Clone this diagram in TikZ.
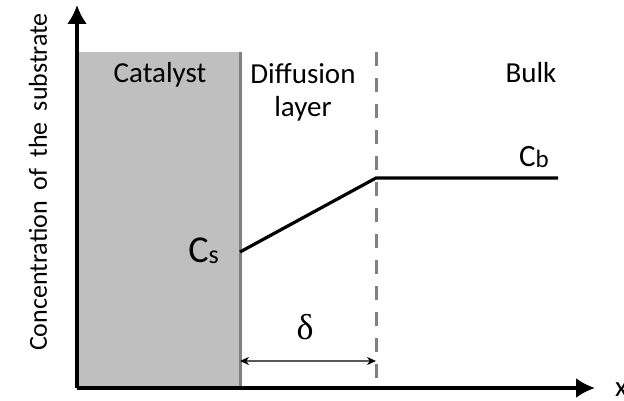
\documentclass[tikz,border=0pt]{standalone}
\usepackage{fontspec}
\setmainfont{Carlito}
\newfontfamily\grkfont{Liberation Serif}
\usetikzlibrary{arrows.meta,calc}

\tikzset{
	axis/.style={line width=3.2pt, -{Latex[length=19pt,width=20pt]}},
	profile/.style={line width=3.2pt},
	border/.style={draw=black!50, line width=3pt, dash pattern=on 14pt off 12pt},
	label/.style={font=\fontsize{29}{33}\selectfont, inner sep=0pt}
}

\begin{document}
\begin{tikzpicture}[x=1pt,y=-1pt]
	\useasboundingbox (0,0) rectangle (624,401);
	\coordinate (O) at (77,388);
	\coordinate (ytip) at (77,5);
	\coordinate (xtip) at (595,388);
	\coordinate (cattop) at (240,52);
	\coordinate (catbot) at (240,388);
	\coordinate (laytop) at (376,52);
	\coordinate (laybot) at (376,388);
	\coordinate (cs) at (240,252);
	\coordinate (knee) at (376,178);
	\coordinate (cbend) at (558,178);
	% catalyst
	\fill [black!25] (77,52) rectangle (catbot);
	\draw [black!50, line width=3pt] (cattop) -- (catbot);
	% diffusion layer boundary
	\draw [border] (laytop) -- (laybot);
	% axes
	\draw [axis] (O) -- (ytip);
	\draw [axis] (O) -- (xtip);
	% concentration profile
	\draw [profile] (cs) -- (knee) -- (cbend);
	\draw [black!65, line width=2pt, {Stealth[length=9pt,width=8pt,black]}-{Stealth[length=9pt,width=8pt,black]}] ($(catbot)+(0,-27)$) -- ($(laybot)+(0,-27)$);
	% labels
	\node [label, font=\fontsize{26}{30}\selectfont, rotate=90] (ylab) at (38,182) {Concentration\hspace{11pt}of\hspace{11pt}the\hspace{11pt}substrate};
	\node [label, anchor=west] (xlab) at (615,390) {x};
	\node [label, anchor=base] (catalyst) at (160,83) {Catalyst};
	\node [label, align=center, anchor=north] (diffusion) at (303,63) {Diffusion\\layer};
	\node [label, anchor=base] (bulk) at (531,83) {Bulk};
	\node [label, anchor=east] (cslab) at (219,251) {\fontsize{38}{42}\selectfont C\raisebox{-1pt}{\fontsize{26}{30}\selectfont s}};
	\node [label] (cblab) at (534,157) {\fontsize{31}{36}\selectfont C\raisebox{-1pt}{\fontsize{25}{30}\selectfont b}};
	\node [label] (delta) at (305,327) {\grkfont\fontsize{36}{40}\selectfont δ};
\end{tikzpicture}
\end{document}
